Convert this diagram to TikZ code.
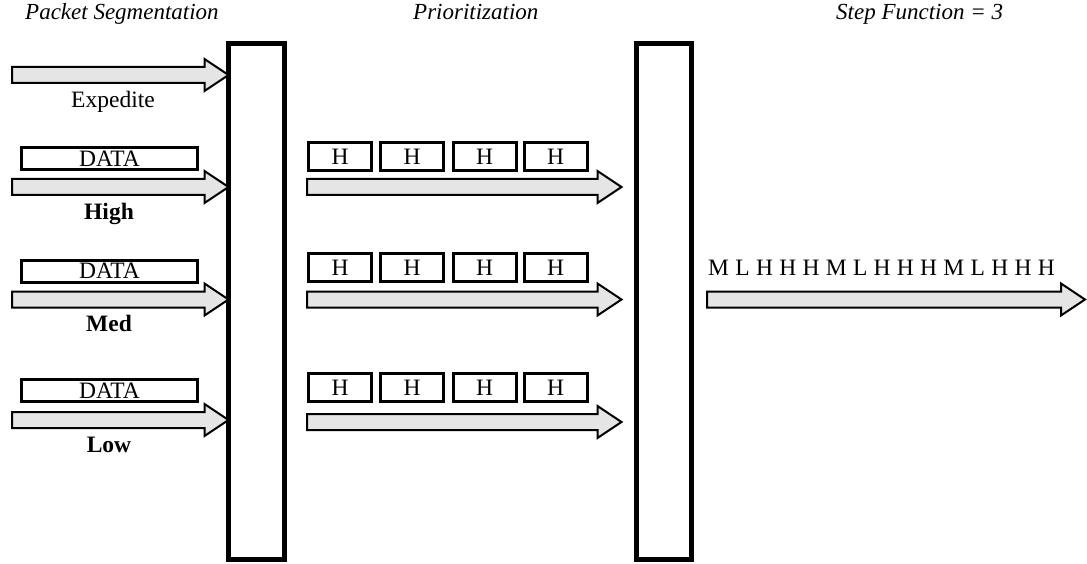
\documentclass[tikz,border=0pt]{standalone}
\usepackage{fontspec}
\setmainfont{Liberation Serif}
\usetikzlibrary{calc}

% wide gray arrow from #1 to the tip #2
\newcommand{\blockarrow}[2]{%
  \draw[flowarrow] ($(#1)+(0,-8)$) -- ($(#2)+(-24,-8)$) -- ($(#2)+(-24,-16)$)
    -- (#2) -- ($(#2)+(-24,16)$) -- ($(#2)+(-24,8)$) -- ($(#1)+(0,8)$) -- cycle;}

\begin{document}
\begin{tikzpicture}[x=1pt,y=-1pt,font=\fontsize{23.5}{28}\selectfont]
\tikzset{
  flowarrow/.style={draw=black, line width=2pt, fill=black!10, line join=miter},
  gate/.style={draw, line width=5pt, outer sep=0pt, inner sep=0pt, minimum width=56pt, minimum height=516pt},
  databox/.style={draw, line width=3pt, inner sep=0pt, minimum width=176pt, minimum height=22pt},
  hbox/.style={draw, line width=3pt, inner sep=0pt, minimum width=63pt, minimum height=28pt},
  heading/.style={anchor=base west, inner sep=0pt, font=\fontsize{23}{28}\selectfont\itshape},
  rowlabel/.style={anchor=base, inner sep=0pt}
}
        \useasboundingbox (0,0) rectangle (1087,564);

        \node[heading] (segtitle) at (25,20) {Packet Segmentation};
        \node[heading] (priotitle) at (413,20) {Prioritization};
        \node[heading] (steptitle) at (836,20) {Step Function = 3};

        \node[gate] (segbar) at (256.5,301.5) {};
        \node[gate, minimum width=55pt] (priobar) at (664,301.5) {};

        % packet segmentation
        \coordinate (expIn) at (12,75);
        \coordinate (expOut) at (segbar.west |- expIn);
        \blockarrow{expIn}{expOut}
        \node[rowlabel] (expLabel) at (113,108) {Expedite};

        \node[databox] (dataHigh) at (109.5,158.5) {DATA};
        \coordinate (highIn) at (12,187);
        \coordinate (highOut) at (segbar.west |- highIn);
        \blockarrow{highIn}{highOut}
        \node[rowlabel] (highLabel) at (109,220) {\textbf{High}};

        \node[databox] (dataMed) at (109.5,271) {DATA};
        \coordinate (medIn) at (12,299.5);
        \coordinate (medOut) at (segbar.west |- medIn);
        \blockarrow{medIn}{medOut}
        \node[rowlabel] (medLabel) at (109,331) {\textbf{Med}};

        \node[databox] (dataLow) at (109.5,390.5) {DATA};
        \coordinate (lowIn) at (12,420);
        \coordinate (lowOut) at (segbar.west |- lowIn);
        \blockarrow{lowIn}{lowOut}
        \node[rowlabel] (lowLabel) at (109,452) {\textbf{Low}};

        % prioritization
        \node[hbox] (hHighA) at (340,156.5) {H};
        \node[hbox] (hHighB) at (412,156.5) {H};
        \node[hbox] (hHighC) at (484.5,156.5) {H};
        \node[hbox] (hHighD) at (555.5,156.5) {H};
        \coordinate (prioHighIn) at (307,187);
        \coordinate (prioHighOut) at ($(priobar.west |- prioHighIn)+(-15,0)$);
        \blockarrow{prioHighIn}{prioHighOut}

        \node[hbox] (hMedA) at (340,267.5) {H};
        \node[hbox] (hMedB) at (412,267.5) {H};
        \node[hbox] (hMedC) at (484.5,267.5) {H};
        \node[hbox] (hMedD) at (555.5,267.5) {H};
        \coordinate (prioMedIn) at (307,299.5);
        \coordinate (prioMedOut) at ($(priobar.west |- prioMedIn)+(-15,0)$);
        \blockarrow{prioMedIn}{prioMedOut}

        \node[hbox] (hLowA) at (340,387.5) {H};
        \node[hbox] (hLowB) at (412,387.5) {H};
        \node[hbox] (hLowC) at (484.5,387.5) {H};
        \node[hbox] (hLowD) at (555.5,387.5) {H};
        \coordinate (prioLowIn) at (307,422);
        \coordinate (prioLowOut) at ($(priobar.west |- prioLowIn)+(-15,0)$);
        \blockarrow{prioLowIn}{prioLowOut}

        % step function output
        \node[anchor=base west, inner sep=0pt] (stream) at (708,276) {\spaceskip=6.3pt M L H H H M L H H H M L H H H};
        \coordinate (streamIn) at (707,299.5);
        \coordinate (streamOut) at (1085,299.5);
        \blockarrow{streamIn}{streamOut}
\end{tikzpicture}
\end{document}
